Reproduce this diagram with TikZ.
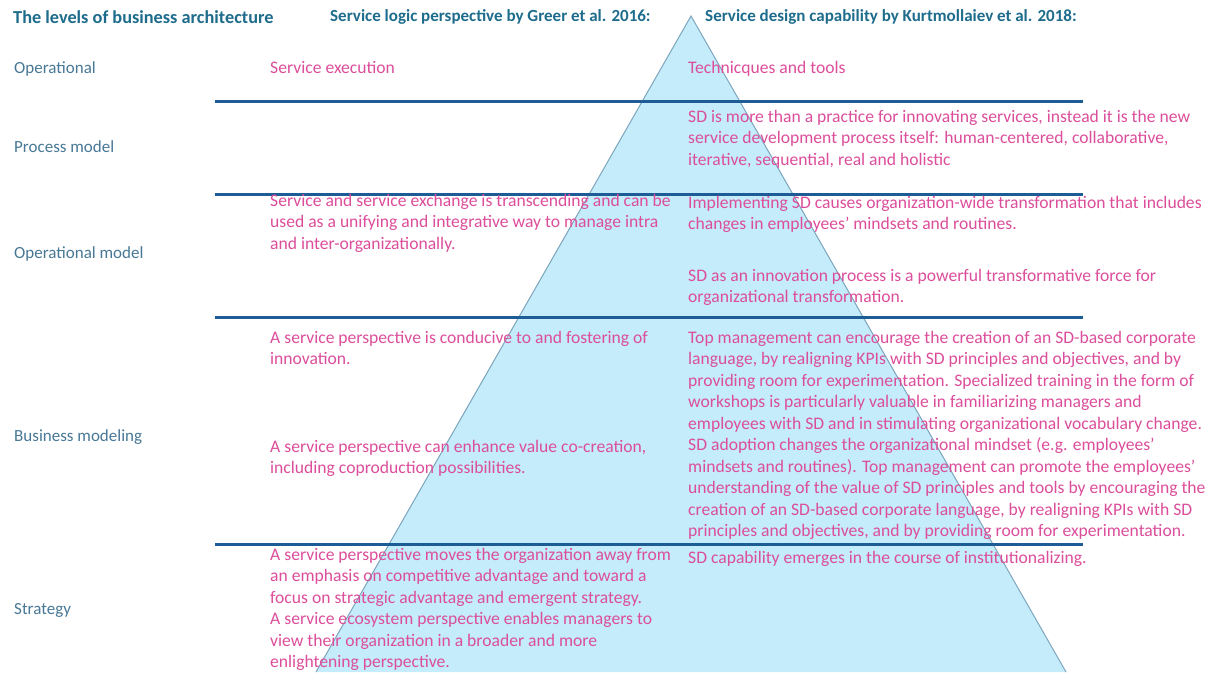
\documentclass[tikz,border=0pt]{standalone}
\usepackage{fontspec}
\setmainfont{Carlito}

\definecolor{headblue}{RGB}{30,108,140}
\definecolor{levelgray}{RGB}{72,120,150}
\definecolor{pinktext}{RGB}{220,78,155}
\definecolor{rulerblue}{RGB}{30,92,150}
\definecolor{pyrfill}{RGB}{196,236,250}
\definecolor{pyredge}{RGB}{125,165,190}

\tikzset{
  head/.style={anchor=west, inner sep=0pt, text=headblue,
    font=\fontsize{17}{20}\selectfont\bfseries},
  level/.style={anchor=west, inner sep=0pt, text=levelgray,
    font=\fontsize{17}{21.5}\selectfont},
  blk/.style={anchor=north west, inner sep=0pt, align=left, text=pinktext,
    font=\fontsize{17.6}{21.5}\selectfont, execute at begin node=\strut},
  divider/.style={draw=rulerblue, line width=3pt},
}

\begin{document}
\begin{tikzpicture}[x=1pt, y=-1pt]
  \useasboundingbox (0,0) rectangle (1217,672);
  \fill[white] (0,0) rectangle (1217,672);

  % pyramid
  \coordinate (apex) at (691,16);
  \coordinate (bl) at (316,672);
  \coordinate (br) at (1066,672);
  \fill[pyrfill] (apex) -- (br) -- (bl) -- cycle;
  \draw[pyredge, line width=1pt] (bl) -- (apex) -- (br);

  % level dividers
  \foreach \n/\y in {a/101, b/194, c/317, d/544} {
    \coordinate (\n L) at (215,\y);
    \coordinate (\n R) at (1083,\y);
    \draw[divider] (\n L) -- (\n R);
  }

  % column headers
  \node[head, font=\fontsize{18.3}{20}\selectfont\bfseries] (h1) at (13,17) {The levels of business architecture};
  \node[head] (h2) at (330,17) {Service logic perspective by Greer et al. 2016:};
  \node[head] (h3) at (705,17) {Service design capability by Kurtmollaiev et al. 2018:};

  % levels
  \node[level] (l1) at (14,69)  {Operational};
  \node[level] (l2) at (14,147) {Process model};
  \node[level] (l3) at (14,254) {Operational model};
  \node[level] (l4) at (14,437) {Business modeling};
  \node[level] (l5) at (14,610) {Strategy};

  % operational
  \node[blk] (m1) at (270,58) {Service execution};
  \node[blk] (r1) at (688,58) {Technicques and tools};

  % process model
  \node[blk] (r2) at (688,110) {SD is more than a practice for innovating services, instead it is the new\\
    service development process itself: human-centered, collaborative,\\
    iterative, sequential, real and holistic};

  % operational model
  \node[blk] (m3) at (270,194) {Service and service exchange is transcending and can be\\
    used as a unifying and integrative way to manage intra\\
    and inter-organizationally.};
  \node[blk] (r3a) at (688,196) {Implementing SD causes organization-wide transformation that includes\\
    changes in employees’ mindsets and routines.};
  \node[blk] (r3b) at (688,269) {SD as an innovation process is a powerful transformative force for\\
    organizational transformation.};

  % business modeling
  \node[blk] (m4a) at (270,331) {A service perspective is conducive to and fostering of\\
    innovation.};
  \node[blk] (m4b) at (270,440) {A service perspective can enhance value co-creation,\\
    including coproduction possibilities.};
  \node[blk] (r4) at (688,331) {Top management can encourage the creation of an SD-based corporate\\
    language, by realigning KPIs with SD principles and objectives, and by\\
    providing room for experimentation. Specialized training in the form of\\
    workshops is particularly valuable in familiarizing managers and\\
    employees with SD and in stimulating organizational vocabulary change.\\
    SD adoption changes the organizational mindset (e.g. employees’\\
    mindsets and routines). Top management can promote the employees’\\
    understanding of the value of SD principles and tools by encouraging the\\
    creation of an SD-based corporate language, by realigning KPIs with SD\\
    principles and objectives, and by providing room for experimentation.};

  % strategy
  \node[blk] (m5) at (270,548) {A service perspective moves the organization away from\\
    an emphasis on competitive advantage and toward a\\
    focus on strategic advantage and emergent strategy.\\
    A service ecosystem perspective enables managers to\\
    view their organization in a broader and more\\
    enlightening perspective.};
  \node[blk] (r5) at (688,548) {SD capability emerges in the course of institutionalizing.};
\end{tikzpicture}
\end{document}
